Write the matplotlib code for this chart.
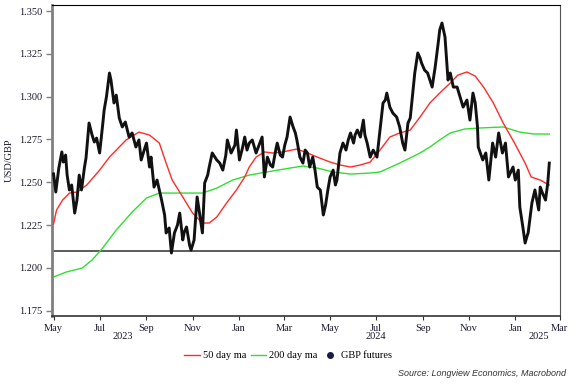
import numpy as np
import pandas as pd
import matplotlib
matplotlib.use("Agg")
import matplotlib.pyplot as plt
import matplotlib.dates as mdates
from matplotlib.lines import Line2D

######### data #########
fut_dates = ["2023-05-01","2023-05-04","2023-05-08","2023-05-12","2023-05-14","2023-05-17","2023-05-19","2023-05-22",
             "2023-05-25","2023-05-29","2023-06-01","2023-06-04","2023-06-07","2023-06-11","2023-06-13","2023-06-17",
             "2023-06-21","2023-06-24","2023-06-27","2023-07-01","2023-07-05","2023-07-07","2023-07-10","2023-07-14",
             "2023-07-16","2023-07-20","2023-07-23","2023-07-27","2023-07-31","2023-08-04","2023-08-09","2023-08-13",
             "2023-08-18","2023-08-22","2023-08-25","2023-08-29","2023-09-01","2023-09-05","2023-09-07","2023-09-11",
             "2023-09-15","2023-09-21","2023-09-25","2023-09-27","2023-10-01","2023-10-04","2023-10-08","2023-10-12",
             "2023-10-15","2023-10-19","2023-10-21","2023-10-24","2023-10-28","2023-10-30","2023-11-03","2023-11-07",
             "2023-11-10","2023-11-14","2023-11-17","2023-11-21","2023-11-23","2023-11-27","2023-12-03","2023-12-07",
             "2023-12-11","2023-12-15","2023-12-17","2023-12-22","2023-12-27","2023-12-29","2024-01-02","2024-01-06",
             "2024-01-09","2024-01-12","2024-01-15","2024-01-19","2024-01-24","2024-01-28","2024-02-01","2024-02-04",
             "2024-02-08","2024-02-12","2024-02-15","2024-02-19","2024-02-21","2024-02-25","2024-02-28","2024-03-02",
             "2024-03-05","2024-03-09","2024-03-13","2024-03-16","2024-03-18","2024-03-22","2024-03-26","2024-03-29",
             "2024-04-01","2024-04-04","2024-04-08","2024-04-11","2024-04-14","2024-04-18","2024-04-22","2024-04-25",
             "2024-04-28","2024-05-01","2024-05-05","2024-05-08","2024-05-10","2024-05-14","2024-05-18","2024-05-22",
             "2024-05-25","2024-05-28","2024-06-01","2024-06-03","2024-06-06","2024-06-10","2024-06-14","2024-06-16",
             "2024-06-19","2024-06-23","2024-06-27","2024-07-02","2024-07-06","2024-07-10","2024-07-13","2024-07-15",
             "2024-07-19","2024-07-23","2024-07-28","2024-08-01","2024-08-05","2024-08-08","2024-08-12","2024-08-15",
             "2024-08-17","2024-08-21","2024-08-25","2024-08-28","2024-08-30","2024-09-03","2024-09-07","2024-09-13",
             "2024-09-17","2024-09-21","2024-09-23","2024-09-26","2024-09-30","2024-10-04","2024-10-07","2024-10-11",
             "2024-10-16","2024-10-20","2024-10-24","2024-10-29","2024-11-02","2024-11-06","2024-11-09","2024-11-12",
             "2024-11-13","2024-11-19","2024-11-23","2024-11-27","2024-11-29","2024-12-02","2024-12-06","2024-12-10",
             "2024-12-15","2024-12-19","2024-12-23","2024-12-29","2025-01-01","2025-01-05","2025-01-07","2025-01-11",
             "2025-01-14","2025-01-17","2025-01-18","2025-01-23","2025-01-27","2025-02-01","2025-02-03","2025-02-06",
             "2025-02-10","2025-02-13","2025-02-15"]
fut_vals = [1.2549,1.2443,1.2583,1.2677,1.2618,1.2659,1.2542,1.2455,
            1.2484,1.2320,1.2396,1.2542,1.2455,1.2589,1.2642,1.2846,
            1.2776,1.2735,1.2758,1.2671,1.2834,1.2922,1.2998,1.3138,
            1.3097,1.2963,1.3009,1.2875,1.2823,1.2852,1.2764,1.2788,
            1.2706,1.2747,1.2630,1.2688,1.2729,1.2589,1.2647,1.2472,
            1.2513,1.2396,1.2309,1.2204,1.2233,1.2087,1.2204,1.2250,
            1.2320,1.2163,1.2209,1.2239,1.2133,1.2104,1.2163,1.2414,
            1.2326,1.2204,1.2496,1.2542,1.2589,1.2671,1.2630,1.2612,
            1.2571,1.2659,1.2747,1.2671,1.2717,1.2805,1.2630,1.2700,
            1.2764,1.2688,1.2729,1.2747,1.2671,1.2717,1.2764,1.2531,
            1.2647,1.2601,1.2589,1.2688,1.2729,1.2659,1.2647,1.2717,
            1.2764,1.2881,1.2823,1.2788,1.2747,1.2647,1.2612,1.2688,
            1.2671,1.2589,1.2647,1.2571,1.2472,1.2455,1.2309,1.2367,
            1.2455,1.2531,1.2571,1.2484,1.2513,1.2671,1.2729,1.2688,
            1.2747,1.2788,1.2729,1.2776,1.2805,1.2764,1.2863,1.2776,
            1.2729,1.2647,1.2688,1.2647,1.2805,1.2963,1.2980,1.3021,
            1.2939,1.2904,1.2881,1.2823,1.2729,1.2688,1.2846,1.2875,
            1.2963,1.3138,1.3255,1.3226,1.3196,1.3155,1.3138,1.3056,
            1.3173,1.3313,1.3389,1.3430,1.3348,1.3097,1.3138,1.3056,
            1.3056,1.2998,1.2939,1.2980,1.2863,1.3021,1.2963,1.2823,
            1.2706,1.2630,1.2671,1.2513,1.2601,1.2729,1.2647,1.2788,
            1.2671,1.2729,1.2531,1.2589,1.2513,1.2571,1.2356,1.2239,
            1.2145,1.2192,1.2204,1.2379,1.2455,1.2338,1.2472,1.2437,
            1.2396,1.2496,1.2612]

ma50_dates = ["2023-05-01","2023-05-05","2023-05-13","2023-05-22","2023-06-01","2023-06-14","2023-07-01","2023-07-14",
              "2023-07-23","2023-08-05","2023-08-22","2023-09-05","2023-09-18","2023-09-27","2023-10-05","2023-10-19",
              "2023-11-01","2023-11-14","2023-11-23","2023-12-03","2023-12-16","2023-12-29","2024-01-09","2024-01-15",
              "2024-01-24","2024-02-04","2024-02-15","2024-02-28","2024-03-18","2024-04-01","2024-04-14","2024-05-01",
              "2024-05-14","2024-05-28","2024-06-10","2024-06-23","2024-07-06","2024-07-19","2024-08-01","2024-08-15",
              "2024-08-28","2024-09-10","2024-09-23","2024-10-07","2024-10-17","2024-10-29","2024-11-09","2024-11-20",
              "2024-12-03","2024-12-16","2024-12-31","2025-01-14","2025-01-22","2025-02-03","2025-02-15"]
ma50_vals = [1.2256,1.2338,1.2396,1.2437,1.2443,1.2484,1.2571,1.2647,
             1.2688,1.2747,1.2793,1.2776,1.2729,1.2612,1.2513,1.2414,
             1.2320,1.2262,1.2262,1.2297,1.2379,1.2455,1.2531,1.2589,
             1.2647,1.2677,1.2671,1.2677,1.2694,1.2671,1.2647,1.2618,
             1.2601,1.2589,1.2601,1.2618,1.2688,1.2764,1.2788,1.2805,
             1.2881,1.2963,1.3021,1.3080,1.3126,1.3144,1.3120,1.3056,
             1.2963,1.2846,1.2729,1.2612,1.2531,1.2513,1.2484]

ma200_dates = ["2023-05-01","2023-05-18","2023-06-08","2023-06-21","2023-07-05","2023-07-23","2023-08-13","2023-09-01",
               "2023-09-18","2023-10-19","2023-11-14","2023-12-03","2023-12-24","2024-01-15","2024-02-07","2024-03-09",
               "2024-03-26","2024-04-14","2024-05-05","2024-05-28","2024-06-23","2024-07-06","2024-08-01","2024-08-28",
               "2024-09-10","2024-09-23","2024-10-07","2024-10-26","2024-11-15","2024-12-16","2025-01-07","2025-01-25",
               "2025-02-15"]
ma200_vals = [1.1947,1.1976,1.1999,1.2046,1.2116,1.2221,1.2326,1.2408,
              1.2437,1.2437,1.2437,1.2466,1.2513,1.2542,1.2560,1.2583,
              1.2595,1.2583,1.2560,1.2548,1.2554,1.2560,1.2612,1.2671,
              1.2706,1.2747,1.2788,1.2811,1.2817,1.2823,1.2793,1.2782,
              1.2782]

support_level = 1.21
yticks = [1.175, 1.200, 1.225, 1.250, 1.275, 1.300, 1.325, 1.350]
month_ticks = ["2023-05-01","2023-07-01","2023-09-01","2023-11-01","2024-01-01","2024-03-01",
               "2024-05-01","2024-07-01","2024-09-01","2024-11-01","2025-01-01","2025-03-01"]
year_labels = {"2023": "2023-08-01", "2024": "2024-07-01", "2025": "2025-02-01"}

######### plot #########
plt.rcParams['font.family'] = ['Liberation Serif', 'DejaVu Serif']
txt = "#1a1a2e"

fig = plt.figure(figsize=(5.76, 3.88), dpi=100)
ax = fig.add_axes([0.0903, 0.186, 0.8817, 0.801])

ax.plot(pd.to_datetime(ma200_dates), ma200_vals, color="#33dd33", lw=1.0, zorder=2)
ax.plot(pd.to_datetime(ma50_dates), ma50_vals, color="#ff2b2b", lw=1.0, zorder=3)
ax.plot(pd.to_datetime(fut_dates), fut_vals, color="#111111", lw=2.1, zorder=4)
ax.axhline(support_level, color="#404040", lw=1.2, zorder=1)

ax.set_ylim(1.172, 1.3535)
ax.set_xlim(pd.Timestamp("2023-04-29"), pd.Timestamp("2025-03-01"))
ax.set_yticks(yticks)
ax.set_yticklabels([f"{v:.3f}" for v in yticks], fontsize=7.5, color=txt)
ax.set_xticks(pd.to_datetime(month_ticks))
ax.xaxis.set_major_formatter(mdates.DateFormatter("%b"))
for lab in ax.get_xticklabels():
    lab.set_fontsize(7.5)
    lab.set_color(txt)
ax.tick_params(axis="y", length=4, width=1, color="#808080", pad=3)
ax.tick_params(axis="x", length=3, width=0.8, color="#333333", pad=3)

for yr, d in year_labels.items():
    ax.text(pd.Timestamp(d), -0.052, yr, transform=ax.get_xaxis_transform(),
            ha="center", va="top", fontsize=7.5, color=txt)

ax.spines["left"].set_color("#808080")
ax.spines["left"].set_linewidth(2)
ax.spines["bottom"].set_color("#333333")
ax.spines["bottom"].set_linewidth(1.2)
ax.spines["top"].set_linewidth(0.8)
ax.spines["right"].set_linewidth(0.8)
ax.spines["right"].set_color("#555555")

ax.set_ylabel("USD/GBP", fontsize=7.5, color=txt, labelpad=4)

handles = [Line2D([], [], color="#ff2b2b", lw=1),
           Line2D([], [], color="#33dd33", lw=1),
           Line2D([], [], color="#1a1a4a", lw=0, marker="o", markersize=4)]
fig.legend(handles, ["50 day ma", "200 day ma", "GBP futures"], loc="center",
           bbox_to_anchor=(0.50, 0.083), ncol=3, frameon=False, fontsize=7.5,
           handlelength=1.5, handletextpad=0.3, columnspacing=0.4)

fig.text(0.983, 0.038, "Source: Longview Economics, Macrobond", ha="right", va="center",
         fontsize=6.5, style="italic", family="Liberation Sans", color="#333333")

fig.savefig("out.png", dpi=100)
